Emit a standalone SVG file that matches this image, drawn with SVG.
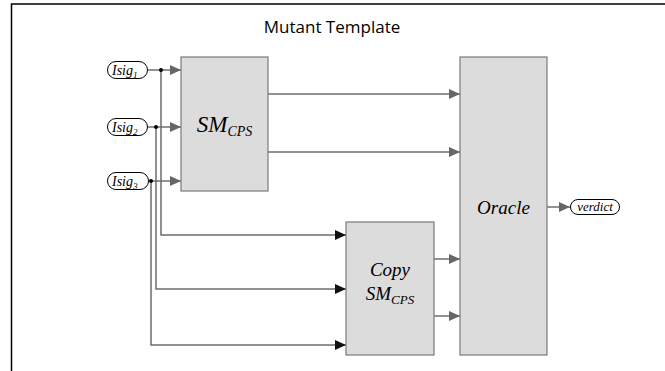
<svg xmlns="http://www.w3.org/2000/svg" width="665" height="371" viewBox="0 0 665 371">
<style>
.frame{fill:none;stroke:#000;stroke-width:1.5}
.box{fill:#dcdcdc;stroke:#7a7a7a;stroke-width:1.2}
.wire{fill:none;stroke:#6e6e6e;stroke-width:1.5}
.port{fill:#fff;stroke:#000;stroke-width:1}
.lbl{font-family:"Liberation Serif",serif;font-style:italic;fill:#000}
.title{font-family:"Open Sans","Liberation Sans",sans-serif;font-size:17px;fill:#000}
</style>
<defs>
<marker id="ag" markerWidth="12" markerHeight="10" refX="11" refY="5" orient="auto" markerUnits="userSpaceOnUse"><path d="M0,0 L11,5 L0,10 Z" fill="#666"/></marker>
<marker id="ab" markerWidth="12" markerHeight="10" refX="11" refY="5" orient="auto" markerUnits="userSpaceOnUse"><path d="M0,0 L11,5 L0,10 Z" fill="#111"/></marker>
</defs>
<rect width="665" height="371" fill="#fff"/>
<path class="frame" d="M11.5,371 V4 H665"/>
<text class="title" x="332" y="33" text-anchor="middle">Mutant Template</text>

<g id="connectors">
<path class="wire" d="M148,70 H181" marker-end="url(#ag)"/>
<path class="wire" d="M148,127 H181" marker-end="url(#ag)"/>
<path class="wire" d="M150,181 H181" marker-end="url(#ag)"/>
<path class="wire" d="M161,70 V235 H346" marker-end="url(#ab)"/>
<path class="wire" d="M156,127 V289 H346" marker-end="url(#ab)"/>
<path class="wire" d="M151,181 V345 H346" marker-end="url(#ab)"/>
<path class="wire" d="M268,94 H460" marker-end="url(#ag)"/>
<path class="wire" d="M268,152 H460" marker-end="url(#ag)"/>
<path class="wire" d="M434,259 H460" marker-end="url(#ag)"/>
<path class="wire" d="M434,316 H460" marker-end="url(#ag)"/>
<path class="wire" d="M547,207 H570" marker-end="url(#ag)"/>
<circle cx="161" cy="70" r="2" fill="#000"/>
<circle cx="156" cy="127" r="2" fill="#000"/>
<circle cx="151" cy="181" r="2" fill="#000"/>
</g>

<g id="isig1">
<rect class="port" x="107.5" y="61.5" width="40" height="17" rx="8.5"/>
<text class="lbl" x="112" y="74.5" font-size="14">Isig<tspan font-size="9" dy="3">1</tspan></text>
</g>
<g id="isig2">
<rect class="port" x="107.5" y="118.5" width="40" height="17" rx="8.5"/>
<text class="lbl" x="112" y="131.5" font-size="14">Isig<tspan font-size="9" dy="3">2</tspan></text>
</g>
<g id="isig3">
<rect class="port" x="107.5" y="172.5" width="41" height="17" rx="8.5"/>
<text class="lbl" x="112" y="185.5" font-size="14">Isig<tspan font-size="9" dy="3">3</tspan></text>
</g>

<g id="smcps">
<rect class="box" x="181" y="57" width="87" height="134"/>
<text class="lbl" x="224.5" y="132" font-size="23" text-anchor="middle">SM<tspan font-size="14" dy="4">CPS</tspan></text>
</g>

<g id="copy">
<rect class="box" x="346" y="222" width="88" height="133"/>
<text class="lbl" x="390" y="276" font-size="19" text-anchor="middle">Copy</text>
<text class="lbl" x="390" y="300" font-size="19" text-anchor="middle">SM<tspan font-size="13" dy="4">CPS</tspan></text>
</g>

<g id="oracle">
<rect class="box" x="460" y="57" width="87" height="298"/>
<text class="lbl" x="503.5" y="214" font-size="19" text-anchor="middle">Oracle</text>
</g>

<g id="verdict">
<rect class="port" x="570.5" y="199.5" width="49" height="15" rx="7.5"/>
<text class="lbl" x="595" y="211" font-size="13" text-anchor="middle">verdict</text>
</g>
</svg>
